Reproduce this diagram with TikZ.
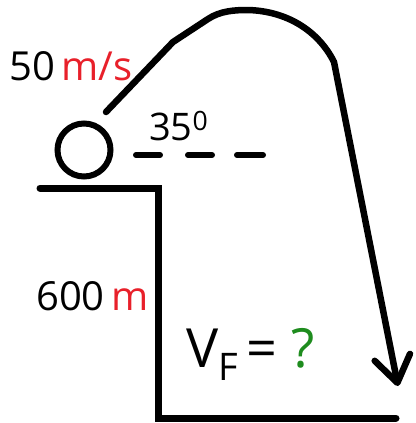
\documentclass[tikz,border=0pt]{standalone}
\usepackage{fontspec}
\setmainfont{Open Sans}
\usepackage{xcolor}
\usepackage{tikz}
\usetikzlibrary{arrows.meta,positioning}
\definecolor{redc}{HTML}{E8202A}
\definecolor{greenc}{HTML}{1E8C1E}
\tikzset{
  ln/.style={line width=7pt,black,line cap=round},
  lbl/.style={inner sep=0pt,anchor=base west,font=\fontsize{40}{44}\selectfont},
  ballc/.style={circle,draw,line width=6pt,minimum size=53pt,inner sep=0pt}
}
\begin{document}
\begin{tikzpicture}[x=1pt,y=-1pt]
\useasboundingbox (0,0) rectangle (415,423);
\node[ballc] (ball) at (84,150) {};
% cliff and ground
\coordinate (ledge) at (40,188);
\coordinate (edge) at (158,188);
\coordinate (foot) at (158,418);
\coordinate (gnd) at (396,418);
\draw[ln,line join=miter] (ledge) -- (edge) -- (foot) -- (gnd);
% horizontal reference
\foreach \dx/\ll in {136/24,188/24,237/26}{
 \draw[ln,line width=6pt] (\dx,155) -- ++(\ll,0);}
% path of the ball
\coordinate (launch) at (106,112);
\coordinate (top) at (248,10);
\coordinate (land) at (398,386);
\draw[ln,line width=6.5pt,line join=round,-{Straight Barb[length=26pt,width=36pt,round]}]
 (launch) -- (173,42) -- (208,19) .. controls (220,11) and (234,10) .. (top)
 .. controls (286,11) and (318,30) .. (334,62) -- (land);
% labels
\node[lbl] (speed) at (9,80) {50\,\textcolor{redc}{m/s}};
\node[lbl,font=\fontsize{38}{42}\selectfont] (angle) at (149,140) {35\textsuperscript{0}};
\node[lbl] (height) at (36,310) {600\,\textcolor{redc}{m}};
\node[lbl,font=\fontsize{54}{60}\selectfont] (vf) at (186,367)
 {V\raisebox{-13pt}{\fontsize{38}{40}\selectfont F}\,= \textcolor{greenc}{?}};
\end{tikzpicture}
\end{document}
